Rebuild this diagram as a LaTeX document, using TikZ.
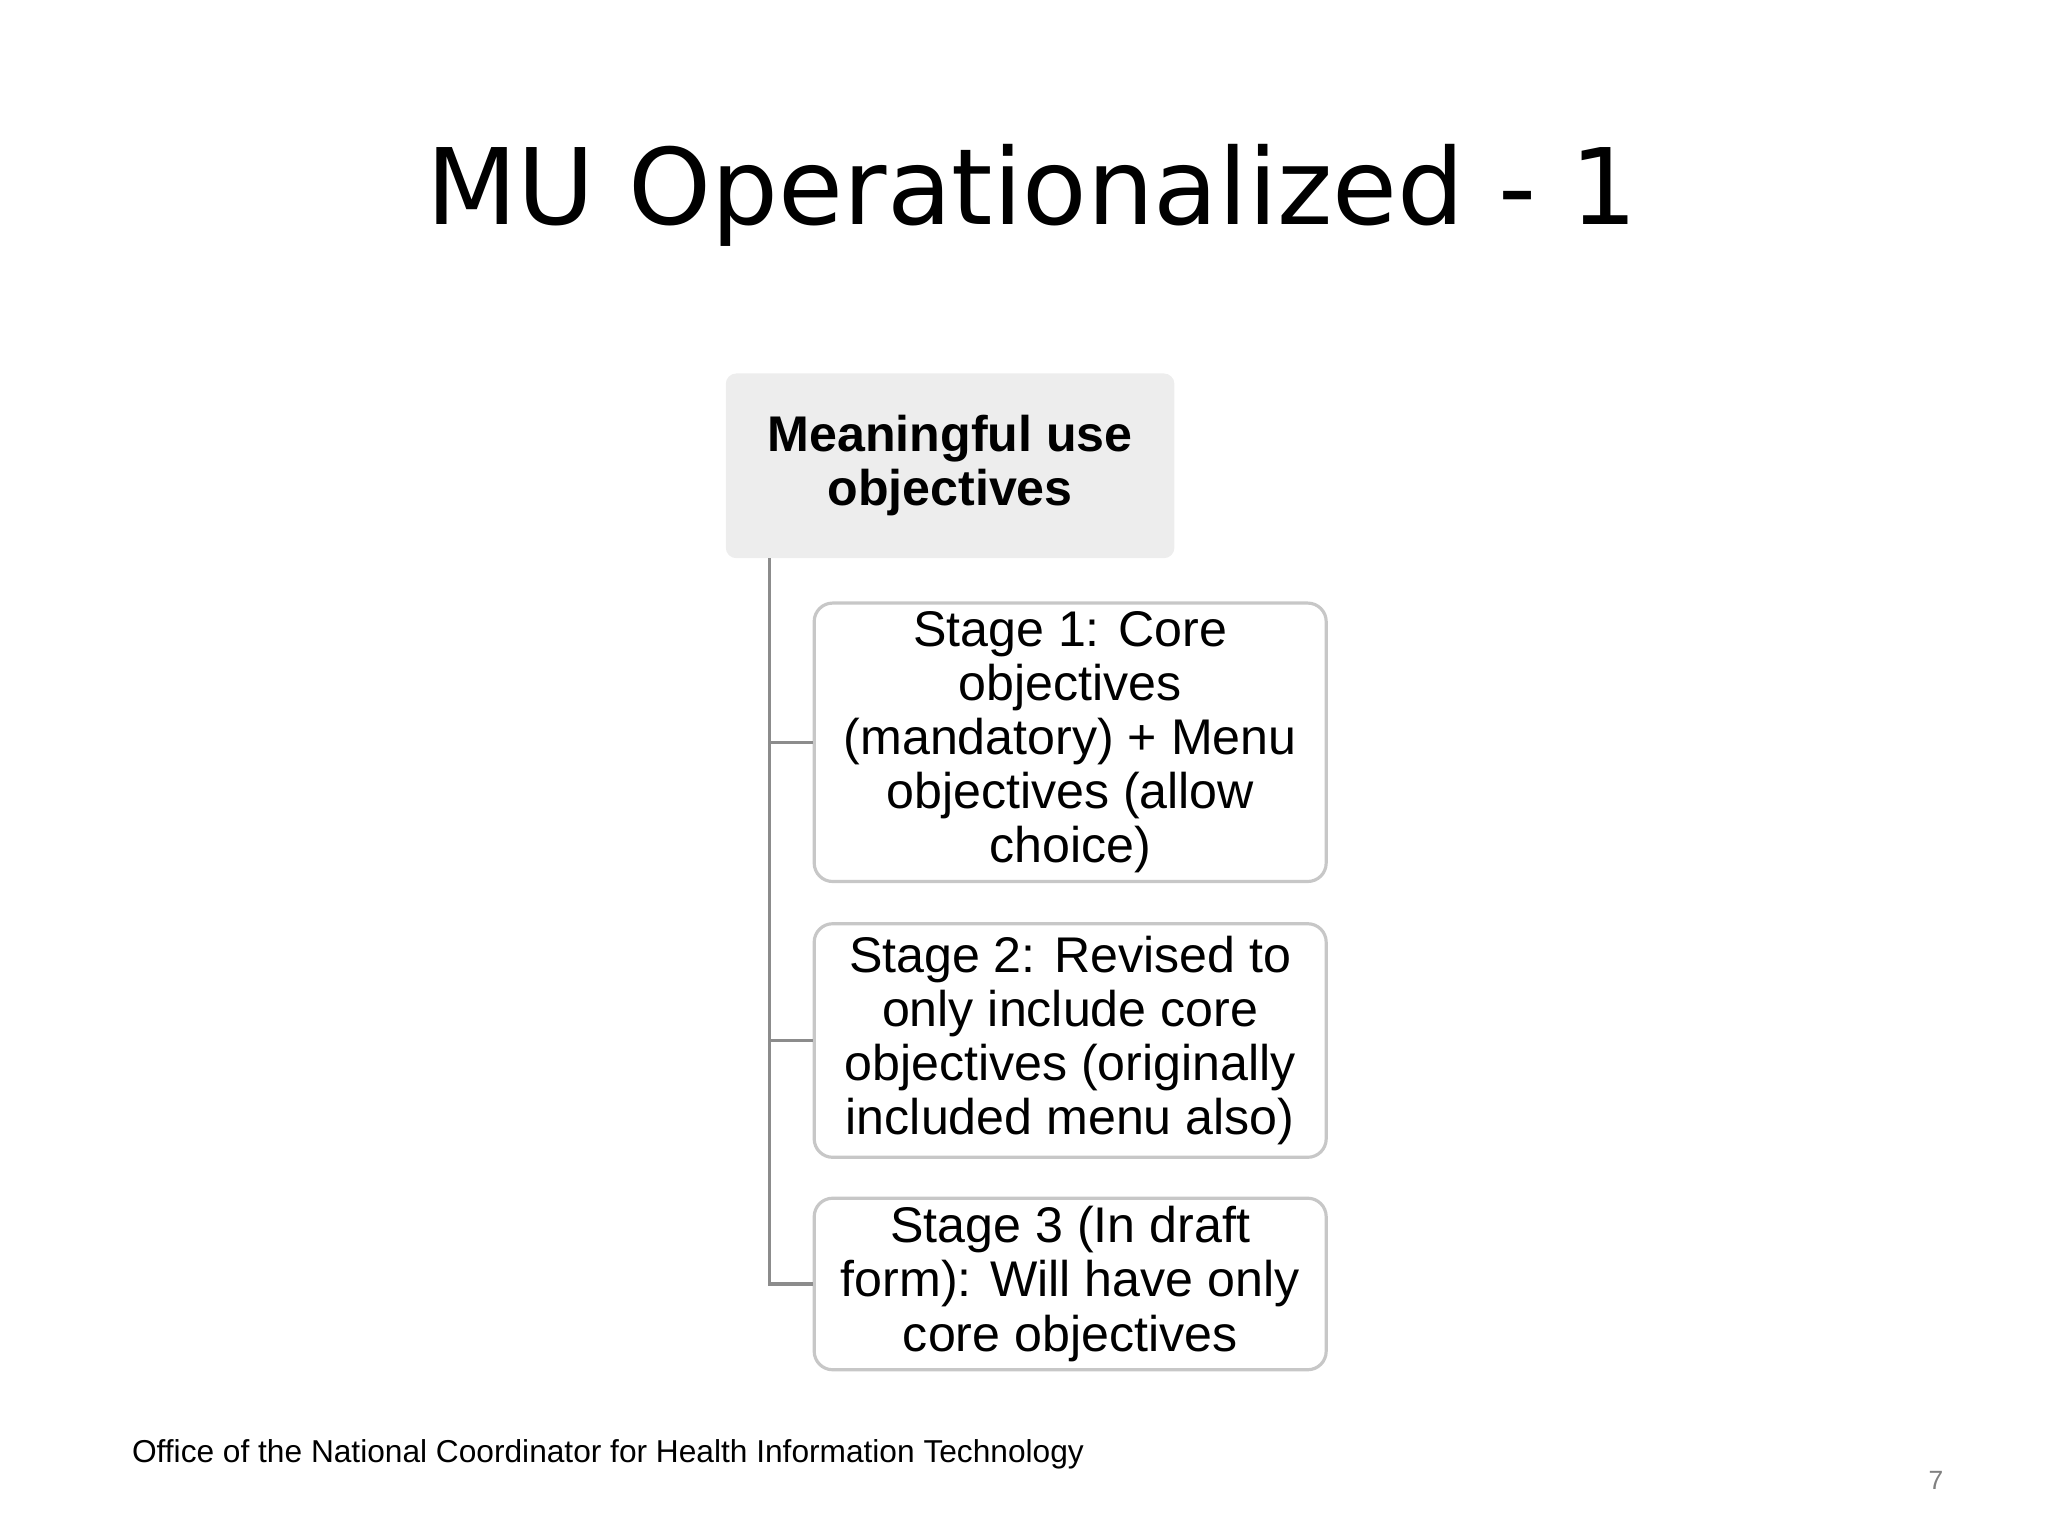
\documentclass[tikz,border=0pt]{standalone}
\usepackage{fontspec}
\setmainfont{Liberation Sans}
\newfontfamily\titlefont{DejaVu Sans}
\begin{document}
\begin{tikzpicture}[x=0.5pt,y=-0.5pt,
  stagebox/.style={draw=black!22,line width=1.2pt,rounded corners=7pt,fill=white,align=center,font=\fontsize{19}{20.5}\selectfont,inner sep=0pt},
  conn/.style={draw=black!45,line width=1.3pt}]
\useasboundingbox (0,0) rectangle (1552,1164);
\node[font=\titlefont\fontsize{40}{44}\selectfont] (title) at (782,148) {MU Operationalized - 1};
\node[fill=black!7,rounded corners=4pt,minimum width=170pt,minimum height=70pt,align=center,font=\bfseries\fontsize{19}{20.5}\selectfont] (top) at (720,353) {Meaningful use\\objectives};
\node[stagebox,minimum width=194pt,minimum height=105.5pt] (s1) at (811,562.5) {Stage 1: Core\\objectives\\(mandatory) + Menu\\objectives (allow\\choice)};
\node[stagebox,minimum width=194pt,minimum height=88.5pt] (s2) at (811,788.5) {Stage 2: Revised to\\only include core\\objectives (originally\\included menu also)};
\node[stagebox,minimum width=194pt,minimum height=65pt] (s3) at (811,973) {Stage 3 (In draft\\form): Will have only\\core objectives};
\coordinate (v) at (583,423);
\draw[conn] (v) |- (s3.west);
\draw[conn] (v |- s1.west) -- (s1.west);
\draw[conn] (v |- s2.west) -- (s2.west);
\node[anchor=west,font=\fontsize{12}{14}\selectfont] (foot) at (93,1102) {Office of the National Coordinator for Health Information Technology};
\node[text=black!50,font=\fontsize{10}{12}\selectfont] (pg) at (1467,1122) {7};
\end{tikzpicture}
\end{document}
